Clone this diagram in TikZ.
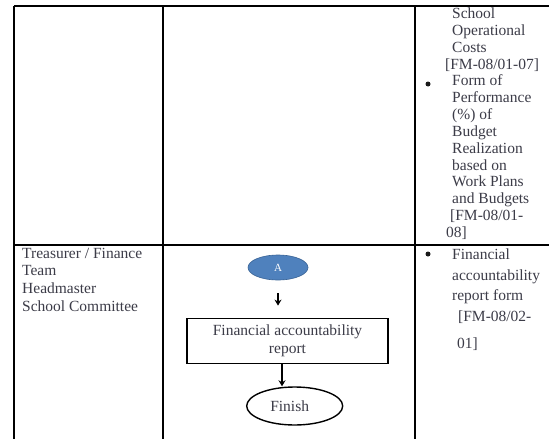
\documentclass[tikz,border=0pt]{standalone}
\usepackage{fontspec}
\setmainfont{Liberation Serif}
\usetikzlibrary{shapes.geometric,arrows.meta}
\definecolor{txt}{HTML}{3C3C48}
\definecolor{ablue}{HTML}{4F81BD}
\definecolor{ablueb}{HTML}{3A6496}
\newcommand{\linesat}[2]{\fontsize{15.5}{#1}\selectfont\begin{tabular}[t]{@{}l@{}}#2\end{tabular}}
\begin{document}
\begin{tikzpicture}[x=1pt,y=-1pt,
  grid/.style={line width=1.6pt,black},
  cell/.style={inner sep=0pt,anchor=base west,text=txt},
  bul/.style={circle,fill=black!90,inner sep=0pt,minimum size=5pt},
  box/.style={draw=black,line width=1.4pt,minimum width=201pt,minimum height=45pt,inner sep=0pt,align=center,text=txt,font=\fontsize{15.5}{18}\selectfont},
  term/.style={ellipse,draw=black,line width=1.4pt,minimum width=96pt,minimum height=38pt,inner sep=0pt,text=txt,font=\fontsize{15.5}{18}\selectfont},
  conn/.style={ellipse,fill=ablue,draw=ablueb,line width=0.6pt,minimum width=60pt,minimum height=25pt,inner sep=0pt,text=white,font=\fontsize{11}{12}\selectfont},
  arr/.style={line width=1.4pt,-{Stealth[length=6pt,width=7pt]}}]
\useasboundingbox (0,0) rectangle (549,439);
\fill[white] (0,0) rectangle (549,439);
% top right cell text (behind the grid lines)
\node[cell] (r1) at (452,18.5) {\linesat{16.85}{School\\Operational\\Costs\\\hspace*{-7pt}[FM-08/01-07]\\Form of\\Performance\\(\%) of\\Budget\\Realization\\based on\\Work Plans\\and Budgets\\\hspace*{-2pt}[FM-08/01-\\\hspace*{-6pt}08]}};
\fill[white] (415,0) rectangle (549,5);
% table grid
\coordinate (tl) at (14,6);
\coordinate (tr) at (549,6);
\coordinate (c1t) at (163,6);
\coordinate (c2t) at (415,6);
\coordinate (bl) at (14,439);
\coordinate (c1b) at (163,439);
\coordinate (c2b) at (415,439);
\coordinate (rl) at (14,245);
\coordinate (rr) at (549,245);
\draw[grid] (tl) -- (tr);
\draw[grid] (rl) -- (rr);
\draw[grid] (tl) -- (bl);
\draw[grid] (c1t) -- (c1b);
\draw[grid] (c2t) -- (c2b);
\node[bul] (b1) at (428,84) {};
% bottom left cell
\node[cell] (who) at (22,258) {\linesat{17.8}{Treasurer / Finance\\Team\\Headmaster\\School Committee}};
% bottom right cell
\node[bul] (b2) at (428,254) {};
\node[cell] (form) at (452,259.5) {\linesat{20.5}{Financial\\accountability\\report form\\\hspace*{6pt}[FM-08/02-\\[7pt]\hspace*{5pt}01]}};
% flow
\node[conn] (A) at (278,267.5) {A};
\node[box] (R) at (287.5,340.8) {Financial accountability\\report};
\node[term] (F) at (294.7,406) {\hspace*{-10pt}Finish};
\draw[arr,shorten <=13pt,shorten >=12pt] (A.south) -- (A.south |- R.north);
\coordinate (a2) at ([xshift=-5.5pt]R.south);
\draw[arr] (a2) -- (a2 |- F.north);
\end{tikzpicture}
\end{document}
